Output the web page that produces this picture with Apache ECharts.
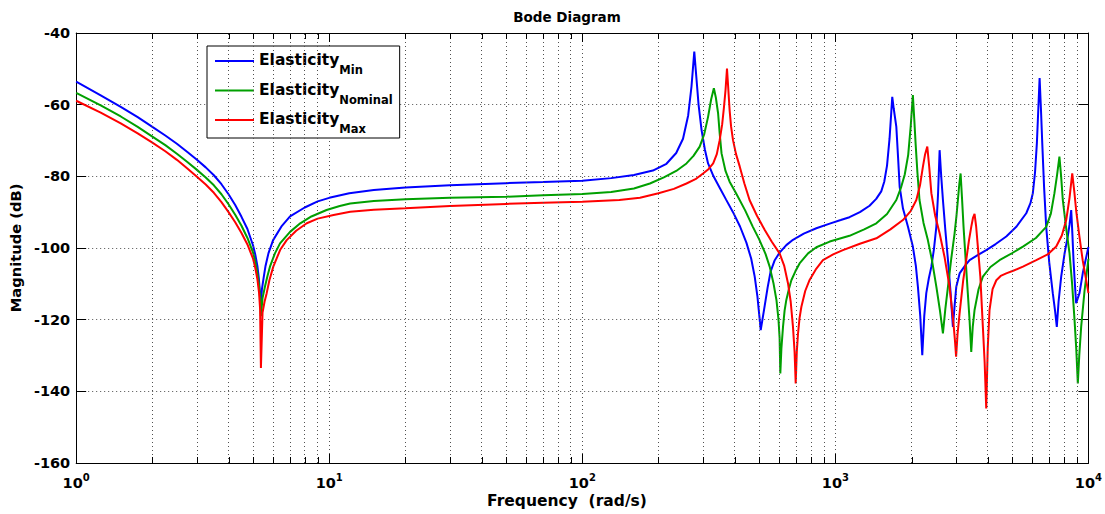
<!DOCTYPE html>
<html>
<head>
<meta charset="utf-8">
<script src="https://cdn.jsdelivr.net/npm/echarts@6/dist/echarts.min.js"></script>
<style>
  html, body { margin: 0; padding: 0; background: #fff; }
  #chart { width: 1105px; height: 514px; }
</style>
</head>
<body>
<div id="chart"></div>
<script>
// Frequency response magnitude (dB) for three elasticity cases
const freqMin = [1, 1.25, 1.5, 1.75, 2, 2.25, 2.5, 2.75, 3, 3.25, 3.5, 3.75, 4, 4.25, 4.5, 4.75, 5, 5.1, 5.2, 5.27, 5.32, 5.36, 5.42, 5.5, 5.6, 5.75, 6, 6.5, 7, 8, 9, 10, 12, 15, 20, 30, 50, 70, 100, 130, 160, 190, 215, 235, 250, 262, 270, 277, 282, 288, 296, 305, 314, 330, 349, 370, 394, 420, 445, 465, 480, 492, 500, 507, 515, 526, 540, 555, 575, 602, 640, 680, 750, 841, 950, 1050, 1137, 1250, 1365, 1450, 1518, 1560, 1600, 1637, 1660, 1678, 1700, 1741, 1770, 1795, 1850, 1936, 2024, 2080, 2119, 2165, 2205, 2245, 2287, 2340, 2395, 2450, 2506, 2545, 2582, 2620, 2661, 2720, 2786, 2850, 2914, 2960, 3005, 3097, 3250, 3391, 3650, 3946, 4300, 4735, 5200, 5680, 5900, 6030, 6150, 6255, 6340, 6413, 6490, 6570, 6680, 6810, 7000, 7230, 7380, 7500, 7620, 7805, 8050, 8285, 8420, 8550, 8640, 8730, 8840, 8940, 9080, 9220, 9500, 10000];
const magMin = [-53.6, -57.4, -60.6, -63.5, -66.2, -68.6, -70.9, -73.2, -75.4, -77.5, -79.7, -82.2, -85, -88, -91.3, -94.7, -99.3, -101.8, -105, -108.5, -112.5, -116.2, -111.5, -108.5, -105, -101.5, -97.8, -93.8, -91.2, -88.7, -87, -86, -84.7, -83.8, -83.1, -82.5, -81.9, -81.6, -81.2, -80.5, -79.6, -78.4, -76.5, -73.5, -69.5, -63, -55, -45.2, -52, -60, -67.1, -72.5, -76.4, -80, -83.2, -86.5, -90, -94, -98.5, -103, -108, -113.5, -118.5, -122.9, -120, -116, -111, -106.5, -103.5, -101.3, -99.2, -97.7, -96, -94.5, -93.2, -92.2, -91.4, -90, -88.2, -86.3, -84.2, -81.5, -77, -69.5, -63, -57.8, -61, -66.1, -75, -82.9, -89, -94.1, -99.6, -105, -110.8, -119, -129.9, -119, -112.6, -108.5, -105.2, -100.5, -94.1, -85, -72.7, -80, -86.6, -95, -103.4, -112, -122, -116, -110.8, -107.1, -105, -103.4, -102, -100.6, -98.9, -96.8, -94, -90.3, -87.5, -84.7, -79, -70.8, -61, -52.6, -61, -70.8, -83, -94.1, -104, -112.6, -117.5, -122, -115, -108, -101.5, -96.8, -93.5, -89.4, -96, -103.4, -110, -115.4, -114, -112.6, -107, -99.7];

const freqNom = [1, 1.25, 1.5, 1.75, 2, 2.25, 2.5, 2.75, 3, 3.25, 3.5, 3.75, 4, 4.25, 4.5, 4.75, 5, 5.1, 5.2, 5.28, 5.33, 5.37, 5.45, 5.57, 5.7, 5.83, 6.1, 6.39, 7, 7.68, 8.5, 9.76, 11, 12.1, 15, 20, 30, 50, 70, 100, 130, 160, 185, 210, 235, 258, 275, 291, 303, 314, 323, 331, 337, 344, 349, 355, 368, 382, 400, 412, 440, 472, 500, 530, 550, 570, 585, 596, 602, 606, 612, 621, 630, 640, 655, 670, 695, 722, 780, 841, 950, 1137, 1300, 1452, 1600, 1741, 1820, 1880, 1940, 1985, 2024, 2050, 2075, 2110, 2150, 2230, 2320, 2410, 2506, 2590, 2661, 2720, 2786, 2870, 2959, 3010, 3049, 3090, 3125, 3165, 3210, 3270, 3337, 3390, 3443, 3490, 3548, 3680, 3827, 4100, 4453, 5000, 5510, 6200, 6810, 7100, 7340, 7520, 7680, 7800, 7920, 8150, 8420, 8620, 8810, 8950, 9080, 9200, 9360, 9650, 10000];
const magNom = [-56.7, -60.2, -63.3, -66.2, -68.9, -71.3, -73.7, -76, -78.2, -80.3, -82.5, -85, -87.8, -90.7, -93.8, -97.2, -101.3, -103.8, -107, -110.5, -114, -119, -114, -110.8, -107.8, -105.2, -101.5, -98.7, -95.5, -93.1, -91.2, -89.4, -88.3, -87.6, -86.9, -86.4, -86, -85.7, -85.3, -84.9, -84.4, -83.4, -82, -80.3, -78.5, -76.4, -74.3, -71.7, -68.3, -63.4, -58.5, -55.4, -58, -62.4, -68, -73.6, -78.5, -81.5, -84, -85.7, -89.5, -94.1, -97.6, -101.7, -105.2, -110, -114.5, -120, -125, -135, -128, -122, -117.5, -114.5, -111.5, -109, -106.5, -104.3, -101.5, -99.8, -98.2, -96.6, -94.8, -93.1, -90.5, -86.6, -83, -79.5, -74, -66, -57.3, -64, -70.8, -79, -86.6, -93, -97.8, -103.5, -110.8, -117.5, -123.8, -117, -110.8, -103, -95.9, -91, -86.6, -82, -79.2, -86, -94.1, -103, -112.6, -120, -129, -122, -117.3, -111.5, -108, -105.3, -103.4, -101.4, -99.6, -97.2, -94.1, -90.5, -84.7, -79.5, -74.5, -80, -86.6, -94, -101.5, -110, -120, -128, -137.8, -130, -122, -112, -103];

const freqMax = [1, 1.25, 1.5, 1.75, 2, 2.25, 2.5, 2.75, 3, 3.25, 3.5, 3.75, 4, 4.25, 4.5, 4.75, 5, 5.1, 5.2, 5.28, 5.33, 5.37, 5.45, 5.55, 5.66, 5.8, 6.01, 6.4, 6.79, 7.4, 8.15, 9, 10.4, 12.1, 15, 20, 30, 50, 70, 100, 140, 169, 200, 230, 258, 280, 300, 315, 329, 340, 349, 357, 363, 368, 373, 377, 382, 387, 394, 405, 419, 437, 458, 490, 526, 560, 602, 628, 650, 666, 680, 690, 697, 704, 712, 722, 734, 760, 791, 840, 893, 980, 1071, 1250, 1452, 1650, 1849, 1980, 2089, 2160, 2218, 2260, 2308, 2350, 2395, 2480, 2582, 2700, 2825, 2920, 2970, 3000, 3040, 3097, 3200, 3289, 3370, 3443, 3500, 3548, 3600, 3656, 3740, 3827, 3890, 3946, 4000, 4066, 4180, 4325, 4500, 4735, 5100, 5510, 6220, 6900, 7460, 7850, 8170, 8420, 8630, 8800, 8940, 9200, 9490, 10000];
const magMax = [-58.9, -62.2, -65.2, -68, -70.6, -73, -75.4, -77.8, -80.1, -82.3, -84.6, -87.2, -90, -92.8, -95.8, -99, -103, -105.5, -108.7, -112.5, -117, -133.5, -118, -115, -112.6, -109, -105.2, -100.5, -97.8, -95.2, -93.1, -91.8, -90.8, -89.9, -89.3, -88.9, -88.3, -87.7, -87.4, -87.1, -86.6, -86, -84.7, -83.5, -82, -80.8, -79.2, -78, -76.4, -73.8, -69.9, -65.5, -60.6, -56, -49.9, -55, -61.5, -66, -69.9, -73.8, -77.3, -82, -86.6, -91, -95, -98.2, -101.5, -105, -109.9, -115, -122, -129, -137.8, -129, -123.8, -119.5, -116.4, -112, -108.9, -105.8, -103.4, -101.8, -100.6, -98.8, -97.3, -94.8, -92.2, -89.8, -86.6, -82.5, -77.3, -74, -71.7, -77.5, -84.7, -91, -95.9, -102.5, -110.8, -120, -126, -130.3, -124, -118.2, -109, -103.4, -98, -94.1, -91.5, -90.5, -94, -99.6, -108, -122, -132, -144.8, -128, -117.3, -111.5, -109, -107.8, -107.1, -106.2, -105.2, -103.4, -101.8, -99.6, -96.5, -92.2, -86, -79.2, -84.5, -89.4, -96.5, -103.4, -112.6];

const caseNames = ['Min', 'Nominal', 'Max'];
const caseColors = ['#0000ff', '#00a000', '#ff0000'];

// Axis ranges and grid positions
const xRange = [1, 10000];
const yRange = [-160, -40];
const yStep = 20;
const decadeMultipliers = [2, 3, 4, 5, 6, 7, 8, 9];
const decades = [1, 10, 100, 1000];

const FONT = '"DejaVu Sans", "Liberation Sans", sans-serif';
const GRID = { left: 76, right: 16, top: 33, bottom: 51 };
const LABEL_CENTER_X = 567;

const minorValues = [];
decades.forEach(d => decadeMultipliers.forEach(m => minorValues.push(d * m)));

const pairs = (fs, ms) => fs.map((f, i) => [f, ms[i]]);
const seriesData = [pairs(freqMin, magMin), pairs(freqNom, magNom), pairs(freqMax, magMax)];

const dotted = { type: [1, 3], color: '#505050', width: 1 };

const chart = echarts.init(document.getElementById('chart'), null, { renderer: 'svg' });

const xAxisBase = {
  type: 'log', logBase: 10, min: xRange[0], max: xRange[1],
  axisLine: { show: true, lineStyle: { color: '#000', width: 1 } },
  axisTick: { show: true, inside: true, length: 9, lineStyle: { color: '#000', width: 1 } }
};
const yAxisBase = {
  type: 'value', min: yRange[0], max: yRange[1], interval: yStep,
  axisLine: { show: true, lineStyle: { color: '#000', width: 1 } },
  axisTick: { show: true, inside: true, length: 10, lineStyle: { color: '#000', width: 1 } }
};

const option = {
  animation: false,
  backgroundColor: '#fff',
  grid: GRID,
  xAxis: [
    Object.assign({}, xAxisBase, {
      position: 'bottom',
      splitLine: { show: true, lineStyle: dotted },
      axisLabel: {
        margin: 9,
        formatter: v => '{b|10}{s|' + Math.round(Math.log10(v)) + '}',
        rich: {
          b: { fontFamily: FONT, fontWeight: 'bold', fontSize: 14.5, color: '#000', lineHeight: 22 },
          s: { fontFamily: FONT, fontWeight: 'bold', fontSize: 10, color: '#000', lineHeight: 12, verticalAlign: 'top' }
        }
      }
    }),
    Object.assign({}, xAxisBase, {
      position: 'top',
      axisLabel: { show: false },
      splitLine: { show: false }
    })
  ],
  yAxis: [
    Object.assign({}, yAxisBase, {
      position: 'left',
      name: 'Magnitude (dB)',
      nameLocation: 'middle',
      nameGap: 50,
      nameTextStyle: { fontFamily: FONT, fontWeight: 'bold', fontSize: 14.7, color: '#000' },
      splitLine: { show: true, lineStyle: dotted },
      axisLabel: { margin: 6, fontFamily: FONT, fontWeight: 'bold', fontSize: 14.5, color: '#000' }
    }),
    Object.assign({}, yAxisBase, {
      position: 'right',
      axisLabel: { show: false },
      splitLine: { show: false }
    })
  ],
  legend: {
    data: caseNames,
    orient: 'vertical',
    left: 207,
    top: 46,
    padding: [6, 7, 3, 8],
    itemGap: 5.5,
    itemWidth: 39,
    itemHeight: 2,
    itemTextGap: 3,
    icon: 'rect',
    backgroundColor: '#fff',
    borderColor: '#000',
    borderWidth: 1,
    borderRadius: 0,
    selectedMode: false,
    formatter: name => '{m|Elasticity}{s|' + name + '}',
    textStyle: {
      rich: {
        m: { fontFamily: FONT, fontWeight: 'bold', fontSize: 15.5, color: '#000', lineHeight: 18, verticalAlign: 'top' },
        s: { fontFamily: FONT, fontWeight: 'bold', fontSize: 11.5, color: '#000', lineHeight: 14, padding: [12, 0, 0, 0], verticalAlign: 'top' }
      }
    }
  },
  series: [
    {
      name: 'minor-grid',
      type: 'line',
      data: [],
      silent: true,
      z: 1,
      markLine: {
        silent: true,
        symbol: ['none', 'none'],
        label: { show: false },
        lineStyle: dotted,
        animation: false,
        data: minorValues.map(v => ({ xAxis: v }))
      }
    }
  ].concat(caseNames.map((n, i) => ({
    name: n,
    type: 'line',
    data: seriesData[i],
    showSymbol: false,
    symbol: 'none',
    z: 3,
    color: caseColors[i],
    lineStyle: { color: caseColors[i], width: 2 },
    emphasis: { disabled: true }
  })))
};

chart.setOption(option);

// Minor ticks at 2..9 in each decade (inside, top and bottom edges), title and x-axis name
const yBottom = chart.convertToPixel({ yAxisIndex: 0 }, yRange[0]);
const yTop = chart.convertToPixel({ yAxisIndex: 0 }, yRange[1]);
const graphics = [];
minorValues.forEach(v => {
  const x = Math.round(chart.convertToPixel({ xAxisIndex: 0 }, v)) + 0.5;
  graphics.push({ type: 'line', silent: true, z: 10, shape: { x1: x, y1: yBottom, x2: x, y2: yBottom - 6 }, style: { stroke: '#000', lineWidth: 1 } });
  graphics.push({ type: 'line', silent: true, z: 10, shape: { x1: x, y1: yTop, x2: x, y2: yTop + 6 }, style: { stroke: '#000', lineWidth: 1 } });
});
graphics.push({
  type: 'text', silent: true,
  x: LABEL_CENTER_X, y: 10,
  style: { text: 'Bode Diagram', fill: '#000', font: 'bold 13.5px ' + FONT, textAlign: 'center', textVerticalAlign: 'top' }
});
graphics.push({
  type: 'text', silent: true,
  x: LABEL_CENTER_X, y: 493,
  style: { text: 'Frequency  (rad/s)', fill: '#000', font: 'bold 15.5px ' + FONT, textAlign: 'center', textVerticalAlign: 'top' }
});
chart.setOption({ graphic: graphics });
</script>
</body>
</html>
